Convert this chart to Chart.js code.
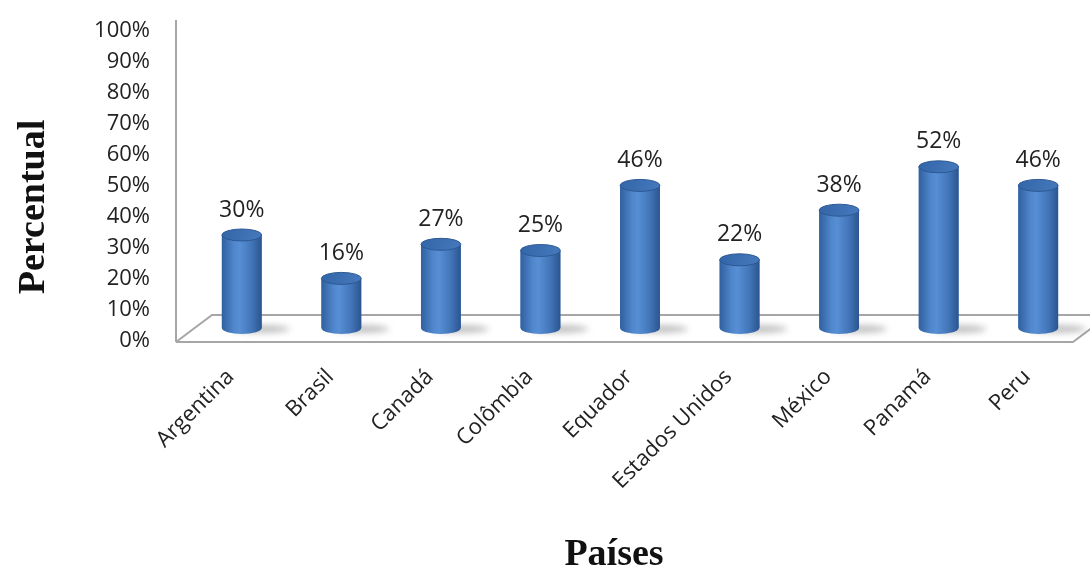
<!DOCTYPE html>
<html>
<head>
<meta charset="utf-8">
<script src="https://cdn.jsdelivr.net/npm/chart.js@4.4.1/dist/chart.umd.min.js"></script>
<style>
    html, body { margin: 0; padding: 0; background: #fff; }
</style>
</head>
<body>
<canvas id="paisesChart" width="1090" height="572"></canvas>
<script>
// dados do gráfico
const paises = ['Argentina', 'Brasil', 'Canadá', 'Colômbia', 'Equador', 'Estados Unidos', 'México', 'Panamá', 'Peru'];
const percentuais = [30, 16, 27, 25, 46, 22, 38, 52, 46];
const tituloY = 'Percentual';
const tituloX = 'Países';

const fonteTexto = '"Open Sans", sans-serif';

// desenha o piso 3D, os cilindros e os rótulos
const cilindros = {
    id: 'cilindros',
    beforeDatasetsDraw(chart) {
        const ctx = chart.ctx;
        const a = chart.chartArea;
        ctx.save();
        // piso
        ctx.strokeStyle = '#a6a6a6';
        ctx.lineWidth = 2;
        ctx.beginPath();
        ctx.moveTo(a.left - 16, a.bottom + 14);
        ctx.lineTo(a.right - 15, a.bottom + 14);
        ctx.lineTo(a.right + 21, a.bottom - 13);
        ctx.moveTo(a.left - 16, a.bottom + 14);
        ctx.lineTo(a.left + 20, a.bottom - 13);
        ctx.lineTo(a.right + 21, a.bottom - 13);
        ctx.stroke();
        // eixo vertical
        ctx.beginPath();
        ctx.moveTo(a.left - 16, a.top + 2);
        ctx.lineTo(a.left - 16, a.bottom + 14);
        ctx.stroke();
        ctx.restore();
    },
    afterDatasetsDraw(chart) {
        const ctx = chart.ctx;
        const meta = chart.getDatasetMeta(0);
        ctx.save();
        meta.data.forEach(function (bar, i) {
            const x = bar.x, top = bar.y, base = bar.base;
            const rx = bar.width / 2, ry = 6;

            // sombra no piso
            ctx.save();
            ctx.filter = 'blur(3px)';
            ctx.fillStyle = 'rgba(80, 80, 80, 0.35)';
            ctx.beginPath();
            ctx.ellipse(x + 20, base + 1, rx + 8, 4, 0, 0, Math.PI * 2);
            ctx.fill();
            ctx.restore();

            // corpo
            const g = ctx.createLinearGradient(x - rx, 0, x + rx, 0);
            g.addColorStop(0, '#30609f');
            g.addColorStop(0.3, '#4f86cc');
            g.addColorStop(0.45, '#578ed4');
            g.addColorStop(0.75, '#4275b8');
            g.addColorStop(1, '#2b558f');
            ctx.fillStyle = g;
            ctx.beginPath();
            ctx.moveTo(x - rx, top);
            ctx.lineTo(x - rx, base);
            ctx.ellipse(x, base, rx, ry, 0, Math.PI, 0, true);
            ctx.lineTo(x + rx, top);
            ctx.closePath();
            ctx.fill();

            // tampa
            const t = ctx.createLinearGradient(x - rx, top - ry, x + rx, top + ry);
            t.addColorStop(0, '#3366a8');
            t.addColorStop(1, '#4679bd');
            ctx.fillStyle = t;
            ctx.beginPath();
            ctx.ellipse(x, top, rx, ry, 0, 0, Math.PI * 2);
            ctx.fill();
            ctx.strokeStyle = '#2c5893';
            ctx.lineWidth = 1;
            ctx.stroke();

            // rótulo de valor
            ctx.fillStyle = '#222';
            ctx.font = '23px ' + fonteTexto;
            ctx.textAlign = 'center';
            ctx.textBaseline = 'middle';
            ctx.fillText(percentuais[i] + '%', x, top - 25);
        });
        ctx.restore();
    },
    afterDraw(chart) {
        const ctx = chart.ctx;
        ctx.save();
        ctx.fillStyle = '#111';
        ctx.font = 'bold 38px "Liberation Serif", serif';
        ctx.textAlign = 'center';
        ctx.textBaseline = 'middle';
        ctx.translate(34, 207);
        ctx.rotate(-Math.PI / 2);
        ctx.fillText(tituloY, 0, 0);
        ctx.restore();

        ctx.save();
        ctx.fillStyle = '#111';
        ctx.font = 'bold 38px "Liberation Serif", serif';
        ctx.textAlign = 'center';
        ctx.textBaseline = 'alphabetic';
        ctx.fillText(tituloX, 614, 565);
        ctx.restore();
    }
};

const chart = new Chart(document.getElementById('paisesChart'), {
    type: 'bar',
    data: {
        labels: paises,
        datasets: [{
            label: tituloY,
            data: percentuais,
            backgroundColor: '#4a7ebb',
            borderWidth: 0,
            barPercentage: 0.4,
            categoryPercentage: 1.0
        }]
    },
    options: {
        responsive: false,
        animation: false,
        devicePixelRatio: 1,
        layout: { padding: { top: 18, right: 2, left: 0, bottom: 0 } },
        plugins: {
            legend: { display: false },
            tooltip: { enabled: false }
        },
        scales: {
            x: {
                grid: { display: false, drawTicks: false },
                border: { display: false },
                ticks: {
                    autoSkip: false,
                    maxRotation: 45,
                    minRotation: 45,
                    padding: 36,
                    labelOffset: -11,
                    color: '#222',
                    font: { family: fonteTexto, size: 22 }
                },
                afterFit(scale) {
                    scale.height = 244;
                    scale.paddingLeft = 0;
                    scale.paddingRight = 0;
                }
            },
            y: {
                min: 0,
                max: 100,
                grid: { display: false, drawTicks: false },
                border: { display: false },
                ticks: {
                    stepSize: 10,
                    padding: 42,
                    labelOffset: 13,
                    color: '#222',
                    font: { family: fonteTexto, size: 22 },
                    callback: function (v) { return v + '%'; }
                },
                afterFit(scale) {
                    scale.width = 192;
                    scale.paddingTop = 0;
                    scale.paddingBottom = 0;
                }
            }
        }
    },
    plugins: [cilindros]
});
</script>
</body>
</html>
